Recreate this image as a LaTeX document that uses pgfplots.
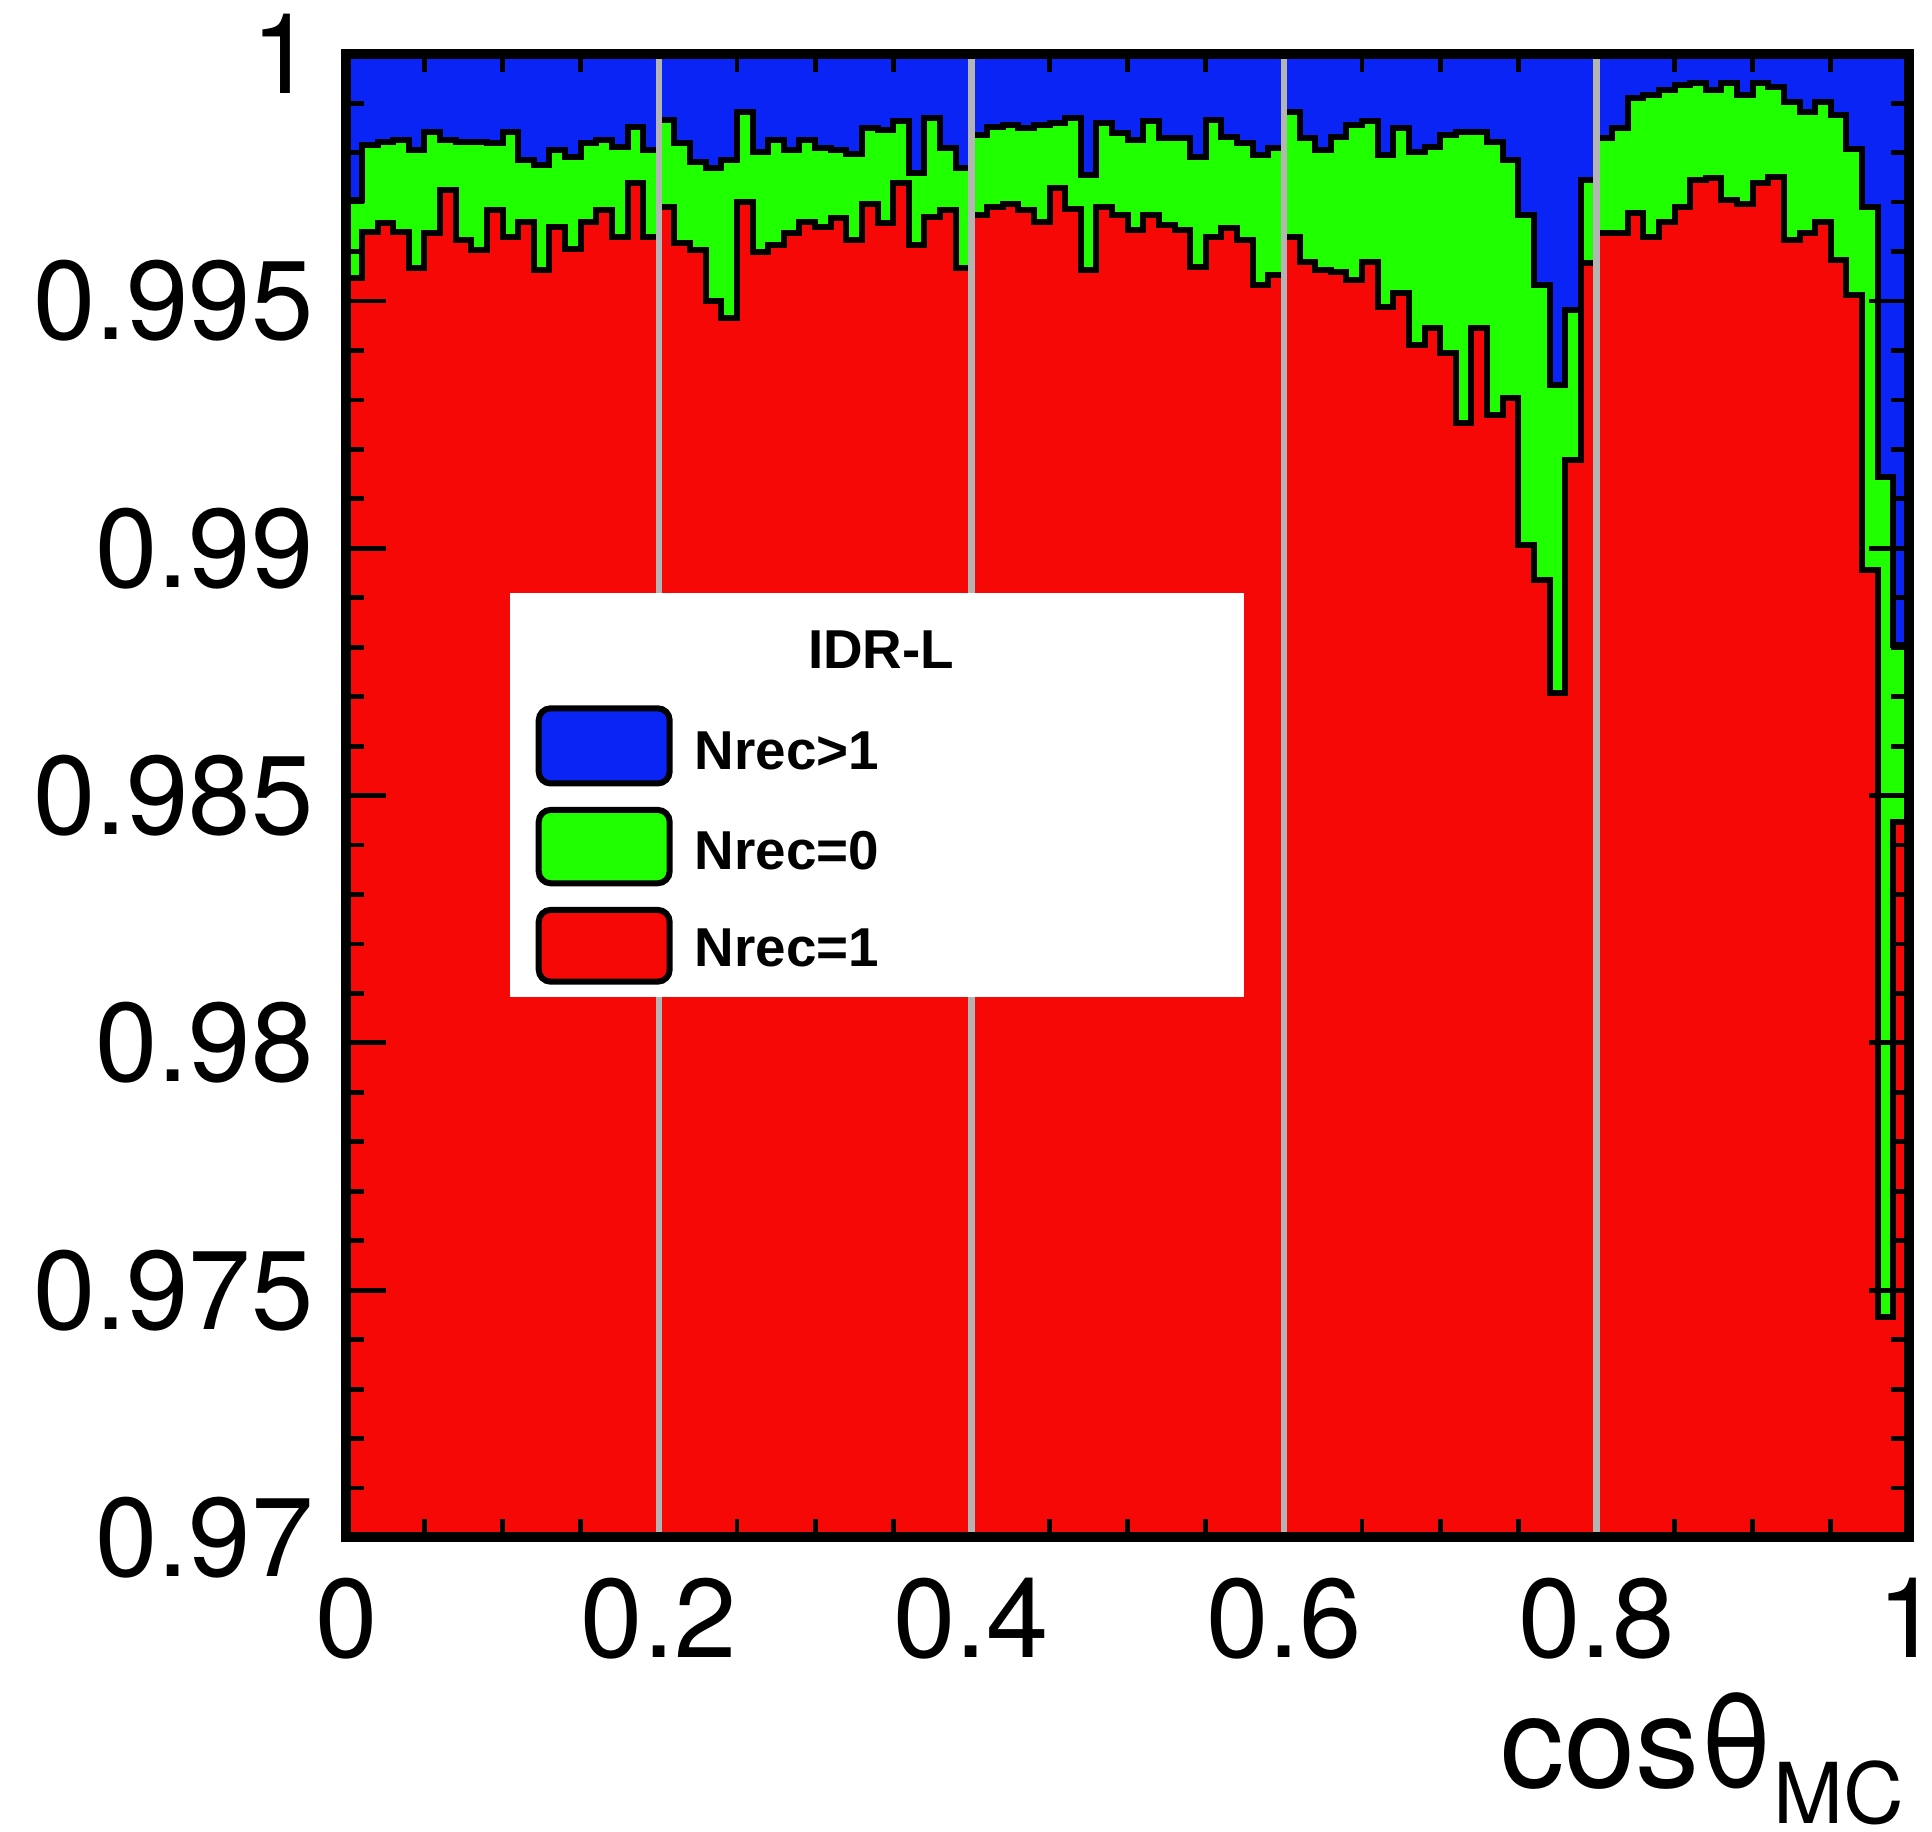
\documentclass[border=0pt]{standalone}
\usepackage{fontspec}
\setmainfont{TeX Gyre Heros}
\newfontfamily\legfont{Liberation Sans}
\usepackage{pgfplots}
\usepackage{pgfplotstable}
\pgfplotsset{compat=1.18}
\definecolor{hblue}{RGB}{10,36,245}
\definecolor{hgreen}{RGB}{32,255,0}
\definecolor{hred}{RGB}{246,8,6}
\definecolor{gridgray}{RGB}{180,180,180}
\pgfplotstableread{
x U R
0.00 0.99704 0.99546
0.01 0.99815 0.99640
0.02 0.99822 0.99657
0.03 0.99825 0.99640
0.04 0.99805 0.99566
0.05 0.99842 0.99637
0.06 0.99825 0.99724
0.07 0.99822 0.99623
0.08 0.99822 0.99603
0.09 0.99819 0.99684
0.10 0.99842 0.99630
0.11 0.99785 0.99660
0.12 0.99775 0.99563
0.13 0.99805 0.99650
0.14 0.99792 0.99606
0.15 0.99819 0.99660
0.16 0.99825 0.99684
0.17 0.99812 0.99630
0.18 0.99852 0.99738
0.19 0.99805 0.99630
0.20 0.99866 0.99691
0.21 0.99819 0.99617
0.22 0.99782 0.99603
0.23 0.99768 0.99499
0.24 0.99785 0.99465
0.25 0.99883 0.99701
0.26 0.99802 0.99600
0.27 0.99825 0.99613
0.28 0.99805 0.99637
0.29 0.99825 0.99660
0.30 0.99809 0.99650
0.31 0.99805 0.99667
0.32 0.99798 0.99623
0.33 0.99849 0.99697
0.34 0.99846 0.99657
0.35 0.99863 0.99738
0.36 0.99758 0.99613
0.37 0.99869 0.99670
0.38 0.99809 0.99684
0.39 0.99768 0.99566
0.40 0.99836 0.99674
0.41 0.99852 0.99691
0.42 0.99856 0.99697
0.43 0.99849 0.99684
0.44 0.99856 0.99660
0.45 0.99859 0.99728
0.46 0.99869 0.99687
0.47 0.99755 0.99563
0.48 0.99859 0.99691
0.49 0.99839 0.99674
0.50 0.99825 0.99643
0.51 0.99863 0.99674
0.52 0.99829 0.99654
0.53 0.99829 0.99643
0.54 0.99792 0.99569
0.55 0.99866 0.99630
0.56 0.99832 0.99647
0.57 0.99819 0.99623
0.58 0.99795 0.99532
0.59 0.99809 0.99553
0.60 0.99883 0.99630
0.61 0.99829 0.99579
0.62 0.99805 0.99563
0.63 0.99832 0.99558
0.64 0.99856 0.99542
0.65 0.99863 0.99579
0.66 0.99795 0.99488
0.67 0.99849 0.99516
0.68 0.99802 0.99411
0.69 0.99812 0.99445
0.70 0.99836 0.99394
0.71 0.99842 0.99253
0.72 0.99842 0.99445
0.73 0.99822 0.99270
0.74 0.99785 0.99303
0.75 0.99674 0.99007
0.76 0.99532 0.98936
0.77 0.99330 0.98707
0.78 0.99482 0.99179
0.79 0.99745 0.99576
0.80 0.99829 0.99637
0.81 0.99849 0.99637
0.82 0.99910 0.99677
0.83 0.99916 0.99630
0.84 0.99927 0.99660
0.85 0.99937 0.99691
0.86 0.99940 0.99745
0.87 0.99927 0.99748
0.88 0.99940 0.99704
0.89 0.99916 0.99697
0.90 0.99940 0.99738
0.91 0.99933 0.99751
0.92 0.99903 0.99623
0.93 0.99883 0.99637
0.94 0.99903 0.99660
0.95 0.99876 0.99583
0.96 0.99807 0.99512
0.97 0.99690 0.98956
0.98 0.99145 0.97446
0.99 0.98804 0.98447
1.00 0.98804 0.98447
}\histdata
\begin{document}
\begin{tikzpicture}
\useasboundingbox (-86.575pt,-73.625pt) rectangle (396.425pt,384.375pt);
\begin{axis}[
  name=ax, at={(0pt,0pt)}, anchor=south west,
  scale only axis, width=390.675pt, height=370.95pt,
  xmin=0, xmax=1, ymin=0.97, ymax=1,
  axis on top,
  axis line style={line width=2.5pt},
  xtick={0,0.2,0.4,0.6,0.8,1},
  xticklabels={0,0.2,0.4,0.6,0.8,1},
  minor x tick num=3,
  ytick={0.97,0.975,0.98,0.985,0.99,0.995,1},
  yticklabels={0.97,0.975,0.98,0.985,0.99,0.995,1},
  minor y tick num=4,
  scaled x ticks=false, scaled y ticks=false,
  tick style={black, line width=1.2pt},
  major tick length=10pt, minor tick length=4.5pt,
  major x tick style={draw=none},
  xmajorgrids,
  grid style={draw=gridgray, line width=1.6pt},
  tick label style={font=\fontsize{28}{28}\selectfont},
  yticklabel style={anchor=east, inner sep=0pt, xshift=-8pt},
  xticklabel style={anchor=base, inner sep=0pt, yshift=-29.9pt},
  xlabel={\fontsize{32}{32}\selectfont cosθ\raisebox{-9pt}{\fontsize{21}{21}\selectfont MC}},
  xlabel style={at={(axis description cs:1,0)}, anchor=base east, inner sep=0pt, yshift=-62.4pt, xshift=-1pt},
]
\addplot[const plot, fill=hblue, draw=black, line width=1.5pt] coordinates {(0,1) (1,1)} \closedcycle;
\addplot[const plot, fill=hgreen, draw=black, line width=1.5pt] table[x=x,y=U]{\histdata} \closedcycle;
\addplot[const plot, fill=hred, draw=black, line width=1.5pt] table[x=x,y=R]{\histdata} \closedcycle;
\end{axis}
% legend
\fill[white] (40.85pt,135.2pt) rectangle (224.4pt,236.05pt);
\node[font=\legfont\bfseries\fontsize{13.7}{13.7}\selectfont, anchor=base, inner sep=0pt] at (133.7pt,217.2pt) {IDR-L};
\draw[fill=hblue, line width=1.5pt, rounded corners=3pt] (48.1pt,188.5pt) rectangle (80.85pt,207.3pt);
\draw[fill=hgreen, line width=1.5pt, rounded corners=3pt] (48.1pt,163.55pt) rectangle (80.85pt,181.9pt);
\draw[fill=hred, line width=1.5pt, rounded corners=3pt] (48.1pt,138.95pt) rectangle (80.85pt,156.9pt);
\node[font=\legfont\bfseries\fontsize{13.7}{13.7}\selectfont, anchor=base west, inner sep=0pt] at (86.9pt,191.9pt) {Nrec>1};
\node[font=\legfont\bfseries\fontsize{13.7}{13.7}\selectfont, anchor=base west, inner sep=0pt] at (86.9pt,166.9pt) {Nrec=0};
\node[font=\legfont\bfseries\fontsize{13.7}{13.7}\selectfont, anchor=base west, inner sep=0pt] at (86.9pt,142.7pt) {Nrec=1};
\end{tikzpicture}
\end{document}
